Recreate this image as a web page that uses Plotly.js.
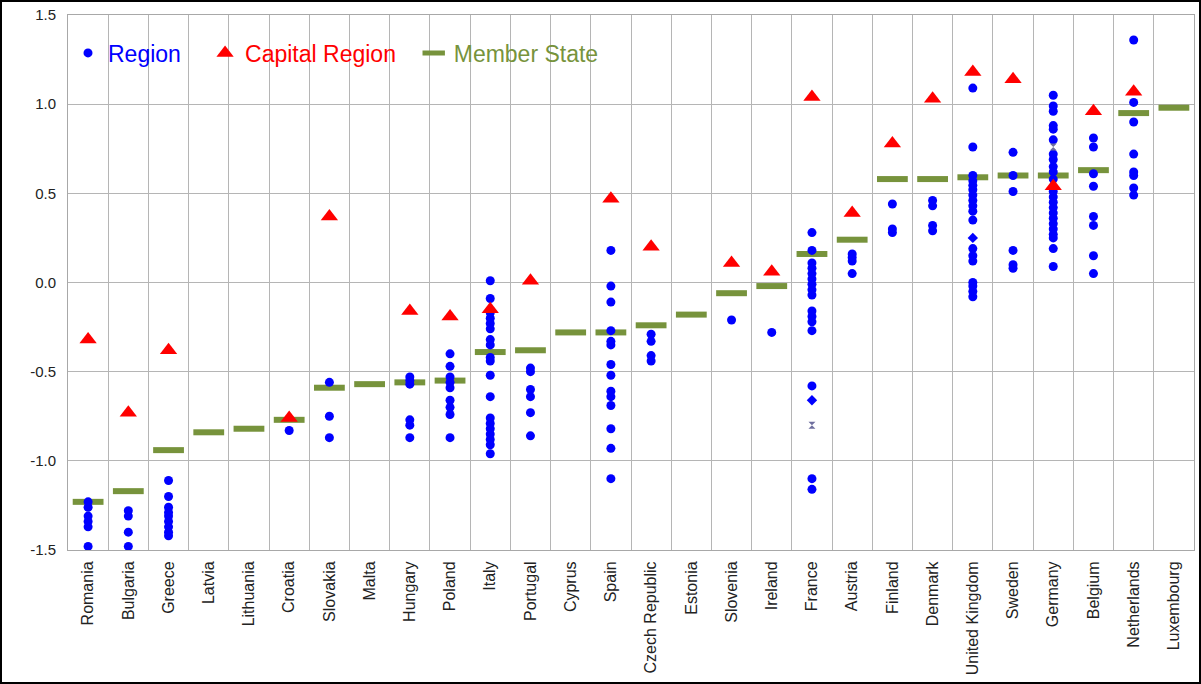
<!DOCTYPE html>
<html><head><meta charset="utf-8">
<script src="https://cdn.plot.ly/plotly-3.0.1.min.js"></script>
<style>
html,body{margin:0;padding:0;background:#fff;}
#wrap{position:relative;width:1201px;height:684px;overflow:hidden;}
#chart{width:1201px;height:684px;}
#frame{position:absolute;left:0;top:0;width:1201px;height:684px;box-sizing:border-box;border:2px solid #000;pointer-events:none;}
</style></head><body>
<div id="wrap"><div id="chart"></div><div id="frame"></div></div>
<script>
// ---- data ----
const countries = ['Romania','Bulgaria','Greece','Latvia','Lithuania','Croatia','Slovakia','Malta','Hungary','Poland','Italy','Portugal','Cyprus','Spain','Czech Republic','Estonia','Slovenia','Ireland','France','Austria','Finland','Denmark','United Kingdom','Sweden','Germany','Belgium','Netherlands','Luxembourg'];

const memberState = [-1.23,-1.17,-0.94,-0.84,-0.82,-0.77,-0.59,-0.57,-0.56,-0.55,-0.39,-0.38,-0.28,-0.28,-0.24,-0.18,-0.06,-0.02,0.16,0.24,0.58,0.58,0.59,0.60,0.60,0.63,0.95,0.98];

const capitalRegion = [-0.32,-0.73,-0.38,null,null,-0.76,0.37,null,-0.16,-0.19,-0.15,0.01,null,0.47,0.20,null,0.11,0.06,1.04,0.39,0.78,1.03,1.18,1.14,0.54,0.96,1.07,null];

const regionValues = [
  [-1.23,-1.26,-1.31,-1.34,-1.37,-1.48],                 // Romania
  [-1.28,-1.31,-1.40,-1.48],                             // Bulgaria
  [-1.11,-1.20,-1.26,-1.29,-1.31,-1.34,-1.37,-1.40,-1.42], // Greece
  [],                                                    // Latvia
  [],                                                    // Lithuania
  [-0.83],                                               // Croatia
  [-0.56,-0.75,-0.87],                                   // Slovakia
  [],                                                    // Malta
  [-0.53,-0.55,-0.57,-0.77,-0.80,-0.87],                 // Hungary
  [-0.40,-0.47,-0.53,-0.56,-0.59,-0.66,-0.70,-0.74,-0.87], // Poland
  [0.01,-0.09,-0.17,-0.20,-0.23,-0.26,-0.32,-0.35,-0.42,-0.44,-0.52,-0.64,-0.76,-0.79,-0.82,-0.85,-0.88,-0.91,-0.96], // Italy
  [-0.48,-0.50,-0.60,-0.64,-0.73,-0.86],                 // Portugal
  [],                                                    // Cyprus
  [0.18,-0.02,-0.11,-0.27,-0.33,-0.35,-0.46,-0.52,-0.61,-0.64,-0.69,-0.82,-0.93,-1.10], // Spain
  [-0.29,-0.33,-0.41,-0.44],                             // Czech Republic
  [],                                                    // Estonia
  [-0.21],                                               // Slovenia
  [-0.28],                                               // Ireland
  [0.28,0.18,0.11,0.08,0.05,0.02,-0.01,-0.04,-0.07,-0.16,-0.19,-0.22,-0.27,-0.58,-1.10,-1.16], // France
  [0.16,0.14,0.12,0.05],                                 // Austria
  [0.44,0.30,0.28],                                      // Finland
  [0.46,0.43,0.32,0.29],                                 // Denmark
  [1.09,0.76,0.60,0.57,0.545,0.52,0.49,0.46,0.43,0.40,0.35,0.19,0.15,0.12,0.00,-0.02,-0.05,-0.08], // United Kingdom
  [0.73,0.60,0.51,0.18,0.10,0.08],                       // Sweden
  [1.05,0.99,0.96,0.88,0.86,0.80,0.72,0.69,0.65,0.62,0.58,0.51,0.48,0.45,0.42,0.39,0.36,0.33,0.30,0.27,0.25,0.19,0.09], // Germany
  [0.81,0.76,0.61,0.54,0.37,0.32,0.15,0.05],             // Belgium
  [1.36,1.01,0.90,0.72,0.62,0.60,0.53,0.49],             // Netherlands
  []                                                     // Luxembourg
];

const diamondCountries = ['France','United Kingdom'];
const diamondValues = [-0.66, 0.25];
const crossCountries = ['France','Germany'];
const crossValues = [-0.80, 0.76];

const yTickVals = [-1.5,-1.0,-0.5,0.0,0.5,1.0,1.5];
const yTickText = ['-1.5','-1.0','-0.5','0.0','0.5','1.0','1.5'];

const legendNames = ['Region', 'Capital Region', 'Member State'];

// ---- build ----
const regX = [], regY = [];
regionValues.forEach((vals, i) => vals.forEach(v => { regX.push(countries[i]); regY.push(v); }));

const FONT = 'Liberation Sans, Arial, sans-serif';
const NB = '\u00a0';

const traces = [
  {
    type: 'scatter', mode: 'markers', x: countries, y: memberState,
    name: '<span style="color:#77933c">' + legendNames[2] + '</span>', legendrank: 3,
    marker: {symbol: 'line-ew', size: 22, color: '#77933c', line: {width: 6, color: '#77933c'}},
    hoverinfo: 'x+y'
  },
  {
    type: 'scatter', mode: 'markers', x: regX, y: regY,
    name: '<span style="color:#0000ff">' + legendNames[0] + NB + NB + NB + '</span>', legendrank: 1,
    marker: {symbol: 'circle', size: 9, color: '#0000ff'},
    hoverinfo: 'x+y'
  },
  {
    type: 'scatter', mode: 'markers', x: diamondCountries, y: diamondValues,
    showlegend: false, marker: {symbol: 'diamond', size: 8, color: '#0000ff'}, hoverinfo: 'x+y'
  },
  {
    type: 'scatter', mode: 'markers', x: crossCountries, y: crossValues,
    showlegend: false, marker: {symbol: 'hourglass', size: 7, color: '#6f6f9f'}, hoverinfo: 'x+y'
  },
  {
    type: 'scatter', mode: 'markers', x: countries, y: capitalRegion,
    name: '<span style="color:#ff0000">' + legendNames[1] + NB + NB + '</span>', legendrank: 2,
    marker: {symbol: 'triangle-up', size: 15, color: '#ff0000'},
    hoverinfo: 'x+y'
  }
];

const layout = {
  width: 1201, height: 684,
  margin: {l: 68, r: 7, t: 15, b: 134, pad: 0},
  paper_bgcolor: '#ffffff', plot_bgcolor: '#ffffff',
  font: {family: FONT, size: 15, color: '#222'},
  showlegend: true,
  legend: {
    orientation: 'h', x: 0.0, xanchor: 'left', y: 0.929, yanchor: 'middle',
    bgcolor: 'rgba(0,0,0,0)', borderwidth: 0,
    font: {family: FONT, size: 23}, itemwidth: 30, traceorder: 'normal'
  },
  xaxis: {
    type: 'category', categoryorder: 'array', categoryarray: countries,
    range: [-0.5, countries.length - 0.5], autorange: false,
    tickson: 'boundaries', showgrid: true, gridcolor: '#b5b5b5', gridwidth: 1,
    showline: true, mirror: true, linecolor: '#a8a8a8', linewidth: 1,
    ticks: '', tickangle: -90, ticklabelstandoff: 4,
    tickfont: {family: FONT, size: 16, color: '#222'},
    zeroline: false
  },
  yaxis: {
    range: [-1.5, 1.5], autorange: false, tickvals: yTickVals, ticktext: yTickText,
    showgrid: true, gridcolor: '#b5b5b5', gridwidth: 1,
    showline: true, mirror: true, linecolor: '#a8a8a8', linewidth: 1,
    ticks: '', ticklabelstandoff: 8,
    tickfont: {family: FONT, size: 15, color: '#222'},
    zeroline: false
  },
  shapes: [{
    type: 'rect', xref: 'paper', yref: 'paper', layer: 'between',
    x0: 0.002, x1: 0.48, y0: 0.865, y1: 0.981,
    fillcolor: '#ffffff', line: {width: 0}
  }]
};

Plotly.newPlot('chart', traces, layout, {displayModeBar: false, staticPlot: true});
</script>
</body></html>
